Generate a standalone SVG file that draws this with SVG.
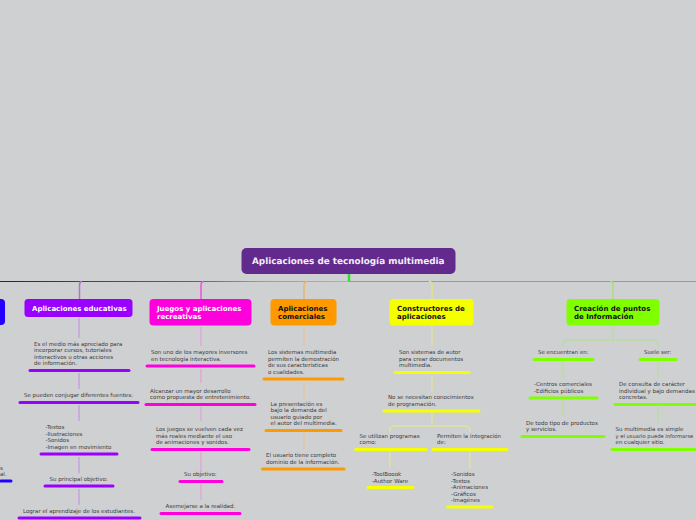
<svg xmlns="http://www.w3.org/2000/svg" width="696" height="520" viewBox="0 0 696 520">
<style>
text{font-family:"DejaVu Sans",Verdana,sans-serif;text-rendering:geometricPrecision}
.t{font-size:5.5px;fill:#3a3a3a}
.h{font-size:7px;font-weight:bold}
.w{fill:#fff}.k{fill:#111}
.u{stroke-width:3;stroke-linecap:round;fill:none}
.c{fill:none;stroke-width:1}
.pu{stroke:#9900ff}.ma{stroke:#ff00dd}.or{stroke:#ff9900}.ye{stroke:#f6ff00}.gr{stroke:#80ff00}.bl{stroke:#2200ff}
.cpu{stroke:#c08ce6}.cma{stroke:#f08fe0}.cor{stroke:#eebf88}.cye{stroke:#e8e88a}.cgr{stroke:#aee488}
</style>
<defs>
<linearGradient id="lg" gradientUnits="userSpaceOnUse" x1="0" y1="0" x2="349" y2="0">
<stop offset="0" stop-color="#2200ff"/><stop offset=".23" stop-color="#8a00e0"/><stop offset=".57" stop-color="#ff00dd"/><stop offset=".75" stop-color="#f070a0"/><stop offset=".87" stop-color="#ff9900"/><stop offset="1" stop-color="#a0d030"/>
</linearGradient>
</defs>
<rect width="696" height="520" fill="#cfd0d2"/>
<g id="connectors">
<path d="M0 281.500H349" stroke="url(#lg)" fill="none" stroke-width="1"/>
<path d="M349 281.500H696" stroke="#33e033" fill="none" stroke-width="1"/>
<path d="M349 274V281.500" stroke="#33e033" fill="none" stroke-width="2.500"/>
<path d="M82 281.500Q79.500 281.500 79.500 285V299" fill="none" stroke="#b070e0" stroke-width="1.500"/>
<path d="M204 281.500Q201 281.500 201 285V299" fill="none" stroke="#f050e0" stroke-width="1.500"/>
<path d="M308 281.500Q304 281.500 304 285V299" fill="none" stroke="#eeb060" stroke-width="1.300"/>
<path d="M429 281.500Q432 281.500 432 285V299" fill="none" stroke="#e6e670" stroke-width="1.300"/>
<path d="M610 281.500Q613 281.500 613 285V299" fill="none" stroke="#a6e070" stroke-width="1.300"/>
<path d="M79 318V338M79 373V389M79 405V421M79 457V473M79 489V505" class="c cpu"/>
<path d="M201 327V346M201 369V383M201 407V421M201 452V472M201 484V500" class="c cma"/>
<path d="M304 327V346M304 382V398M304 433V449" class="c cor"/>
<path d="M432 326V346M432 375V391M432 412V426M390 450V468M470 450V468" class="c cye"/>
<path d="M390 432V428Q390 426 393 426H467Q470 426 470 430V432" class="c cye"/>
<path d="M613 326V340M563 347V344Q563 340 567 340H654Q658 340 658 344V347M563 362V378M563 400V416M658 362V378M658 407V423" class="c cgr"/>
</g>
<g id="root"><rect x="241.500" y="248" width="214" height="26" rx="5" fill="#622a8c"/><text x="252" y="264" font-size="8.850" font-weight="bold" fill="#f2eef6">Aplicaciones de tecnología multimedia</text></g>
<g id="n-left"><rect x="-10" y="299" width="15" height="26" rx="4" fill="#2200ff"/><text class="t" x="0" y="470">s</text><text class="t" x="0" y="476">al.</text><path class="u bl" d="M1 481H11"/></g>
<g id="n-edu"><rect x="24.500" y="299" width="108" height="18" rx="3.500" fill="#9900ff"/><text class="h w" x="32" y="311">Aplicaciones educativas</text></g>
<g id="n-edu1"><text class="t"><tspan x="34" y="346">Es el medio más apreciado para</tspan><tspan x="34" y="352">incorporar cursos, tutoriales</tspan><tspan x="34" y="358.500">interactivos u otras acciones</tspan><tspan x="34" y="365">de información.</tspan></text><path class="u pu" d="M30 370.500H129"/></g>
<g id="n-edu2"><text class="t" x="24" y="397">Se pueden conjugar diferentes fuentes:</text><path class="u pu" d="M20 402.500H138"/></g>
<g id="n-edu3"><text class="t"><tspan x="45.500" y="429">-Textos</tspan><tspan x="45.500" y="436">-Ilustraciones</tspan><tspan x="45.500" y="442">-Sonidos</tspan><tspan x="45.500" y="449">-Imagen en movimiento</tspan></text><path class="u pu" d="M41 454H117"/></g>
<g id="n-edu4"><text class="t" x="49.500" y="481">Su principal objetivo:</text><path class="u pu" d="M45 486H113"/></g>
<g id="n-edu5"><text class="t" x="23" y="513">Lograr el aprendizaje de los estudiantes.</text><path class="u pu" d="M19 518H140"/></g>
<g id="n-jue"><rect x="149.500" y="299" width="102" height="26.500" rx="4" fill="#ff00dd"/><text class="h w"><tspan x="157" y="311">Juegos y aplicaciones</tspan><tspan x="157" y="319">recreativas</tspan></text></g>
<g id="n-jue1"><text class="t"><tspan x="151" y="354">Son uno de los mayores inversores</tspan><tspan x="151" y="361">en tecnología interactiva.</tspan></text><path class="u ma" d="M147 366H254"/></g>
<g id="n-jue2"><text class="t"><tspan x="150" y="393">Alcanzar un mayor desarrollo</tspan><tspan x="150" y="399">como propuesta de entretenimiento.</tspan></text><path class="u ma" d="M146 404.500H255"/></g>
<g id="n-jue3"><text class="t"><tspan x="156" y="431">Los juegos se vuelven cada vez</tspan><tspan x="156" y="438">más reales mediante el uso</tspan><tspan x="156" y="444">de animaciones y sonidos.</tspan></text><path class="u ma" d="M152 449.500H249"/></g>
<g id="n-jue4"><text class="t" x="184" y="476">Su objetivo:</text><path class="u ma" d="M180 481.500H222"/></g>
<g id="n-jue5"><text class="t" x="165.500" y="508">Asemejarse a la realidad.</text><path class="u ma" d="M161 513.500H240"/></g>
<g id="n-com"><rect x="270.500" y="299" width="66" height="26.500" rx="4" fill="#ff9900"/><text class="h k"><tspan x="278" y="311">Aplicaciones</tspan><tspan x="278" y="319">comerciales</tspan></text></g>
<g id="n-com1"><text class="t"><tspan x="268" y="354">Los sistemas multimedia</tspan><tspan x="268" y="361">permiten la demostración</tspan><tspan x="268" y="367">de sus características</tspan><tspan x="268" y="374">o cualidades.</tspan></text><path class="u or" d="M264 379H343"/></g>
<g id="n-com2"><text class="t"><tspan x="270.500" y="406">La presentación es</tspan><tspan x="270.500" y="412">bajo la demanda del</tspan><tspan x="270.500" y="419">usuario guiado por</tspan><tspan x="270.500" y="425">el autor del multimedia.</tspan></text><path class="u or" d="M266 430.500H341"/></g>
<g id="n-com3"><text class="t"><tspan x="266" y="457">El usuario tiene completo</tspan><tspan x="266" y="464">dominio de la información.</tspan></text><path class="u or" d="M262.500 469H344"/></g>
<g id="n-con"><rect x="389.500" y="299" width="84" height="26.500" rx="4" fill="#f6ff00"/><text class="h k"><tspan x="397" y="311">Constructores de</tspan><tspan x="397" y="319">aplicaciones</tspan></text></g>
<g id="n-con1"><text class="t"><tspan x="399" y="354">Son sistemas de autor</tspan><tspan x="399" y="361">para crear documentos</tspan><tspan x="399" y="367">multimedia.</tspan></text><path class="u ye" d="M395 372.500H469"/></g>
<g id="n-con2"><text class="t"><tspan x="388" y="399">No se necesitan conocimientos</tspan><tspan x="388" y="406">de programación.</tspan></text><path class="u ye" d="M384 411H479"/></g>
<g id="n-con3"><text class="t"><tspan x="359.500" y="438">Se utilizan programas</tspan><tspan x="359.500" y="444">como:</tspan></text><path class="u ye" d="M355.500 449.500H426"/></g>
<g id="n-con4"><text class="t"><tspan x="437" y="438">Permiten la integración</tspan><tspan x="437" y="444">de:</tspan></text><path class="u ye" d="M433 449.500H507"/></g>
<g id="n-con5"><text class="t"><tspan x="372" y="476">-ToolBoook</tspan><tspan x="372" y="483">-Author Ware</tspan></text><path class="u ye" d="M368 487.500H413"/></g>
<g id="n-con6"><text class="t"><tspan x="451" y="476">-Sonidos</tspan><tspan x="451" y="483">-Textos</tspan><tspan x="451" y="489">-Animaciones</tspan><tspan x="451" y="496">-Gráficos</tspan><tspan x="451" y="502">-Imagénes</tspan></text><path class="u ye" d="M447.500 507H492"/></g>
<g id="n-cre"><rect x="566.500" y="299" width="93" height="26.500" rx="4" fill="#80ff00"/><text class="h k"><tspan x="574" y="311">Creación de puntos</tspan><tspan x="574" y="319">de Información</tspan></text></g>
<g id="n-cre1"><text class="t" x="538" y="354">Se encuentran en:</text><path class="u gr" d="M534 359.500H593"/></g>
<g id="n-cre2"><text class="t" x="644" y="354">Suele ser:</text><path class="u gr" d="M640 359.500H676"/></g>
<g id="n-cre3"><text class="t"><tspan x="534" y="386">-Centros comerciales</tspan><tspan x="534" y="393">-Edificios públicos</tspan></text><path class="u gr" d="M530 398H597"/></g>
<g id="n-cre4"><text class="t"><tspan x="619" y="386">De consulta de carácter</tspan><tspan x="619" y="393">individual y bajo demandas</tspan><tspan x="619" y="399">concretas.</tspan></text><path class="u gr" d="M615 404.500H696"/></g>
<g id="n-cre5"><text class="t"><tspan x="526" y="425">De todo tipo de productos</tspan><tspan x="526" y="431">y servicios.</tspan></text><path class="u gr" d="M522 436.500H604"/></g>
<g id="n-cre6"><text class="t"><tspan x="615.500" y="431">Su multimedia es simple</tspan><tspan x="615.500" y="438" font-size="5.200">y el usuario puede informarse</tspan><tspan x="615.500" y="444">en cualquier sitio.</tspan></text><path class="u gr" d="M612 449.500H696"/></g>
</svg>
